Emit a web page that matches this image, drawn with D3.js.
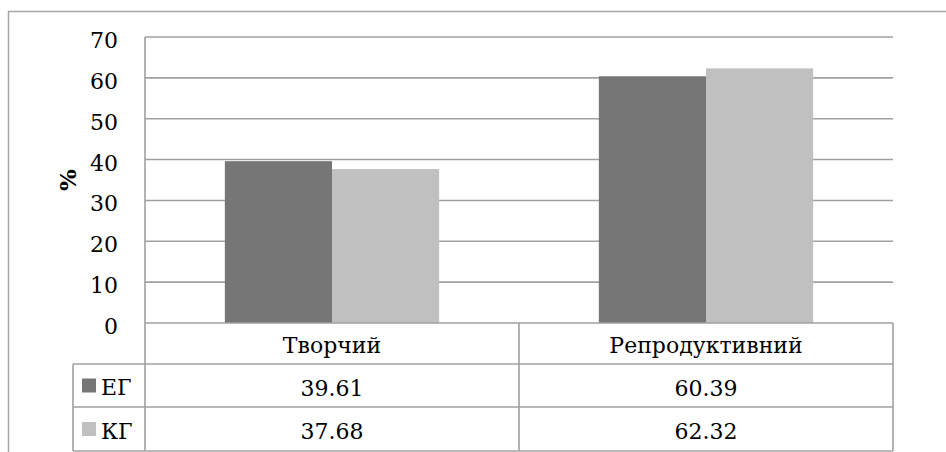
<!DOCTYPE html>
<html><head><meta charset="utf-8">
<script src="https://cdn.jsdelivr.net/npm/d3@7/dist/d3.min.js"></script>
<style>body{margin:0;background:#fff}svg{display:block}</style>
</head><body>
<svg id="c" width="946" height="452"></svg>
<script>
const categories = ["Творчий", "Репродуктивний"];
const seriesNames = ["ЕГ", "КГ"];
const valuesEG = [39.61, 60.39];
const valuesKG = [37.68, 62.32];
const yTicks = [0, 10, 20, 30, 40, 50, 60, 70];
const yLabel = "%";

const colors = {"ЕГ": "#767676", "КГ": "#c0c0c0"};
const seriesValues = {"ЕГ": valuesEG, "КГ": valuesKG};
const font = "'DejaVu Serif', serif";
const grid = "#a0a0a0";

const svg = d3.select("#c");
const L = 145, R = 893, T = 37, B = 323;
const rows = [B, 364, 407, 451];
const legendL = 73;

// outer border
svg.append("rect").attr("x", 8.5).attr("y", 11.5).attr("width", 1200).attr("height", 1200)
  .attr("fill", "none").attr("stroke", "#a6a6a6").attr("stroke-width", 1.5);

const y = d3.scaleLinear().domain([0, 70]).range([B, T]);
const x0 = d3.scaleBand().domain(categories).range([L, R]).padding(0);
const x1 = d3.scaleBand().domain(seriesNames)
  .range([x0.bandwidth() * 0.2135, x0.bandwidth() * 0.7865]).padding(0);

// gridlines
svg.append("g").selectAll("line").data(yTicks.filter(t => t > 0)).join("line")
  .attr("x1", L).attr("x2", R).attr("y1", d => y(d)).attr("y2", d => y(d))
  .attr("stroke", grid).attr("stroke-width", 1.6);

// bars
const cg = svg.append("g").selectAll("g").data(categories).join("g")
  .attr("transform", d => `translate(${x0(d)},0)`);
cg.selectAll("rect").data((c, i) => seriesNames.map(s => ({s, v: seriesValues[s][i]}))).join("rect")
  .attr("x", d => x1(d.s)).attr("width", x1.bandwidth())
  .attr("y", d => y(d.v)).attr("height", d => B - y(d.v))
  .attr("fill", d => colors[d.s]);

// y tick labels
svg.append("g").selectAll("text").data(yTicks).join("text")
  .attr("x", 118).attr("y", d => y(d)).attr("dy", "0.5em")
  .attr("text-anchor", "end").attr("font-family", font).attr("font-size", 22)
  .attr("fill", "#000").text(d => d);

// y label
svg.append("text").attr("transform", "translate(68,180) rotate(-90)")
  .attr("text-anchor", "middle").attr("dy", "0.35em")
  .attr("font-family", font).attr("font-size", 23).attr("font-weight", "bold")
  .text(yLabel);

// table lines
const lines = svg.append("g").attr("stroke", grid).attr("stroke-width", 1.6);
lines.append("line").attr("x1", L).attr("x2", L).attr("y1", T).attr("y2", rows[3]);
lines.append("line").attr("x1", L).attr("x2", R).attr("y1", B).attr("y2", B);
rows.slice(1).forEach(r => lines.append("line").attr("x1", legendL).attr("x2", R).attr("y1", r).attr("y2", r));
lines.append("line").attr("x1", legendL).attr("x2", legendL).attr("y1", rows[1]).attr("y2", rows[3]);
categories.forEach(c => {
  lines.append("line").attr("x1", x0(c) + x0.bandwidth()).attr("x2", x0(c) + x0.bandwidth())
    .attr("y1", B).attr("y2", rows[3]);
});

// category header
svg.append("g").selectAll("text").data(categories).join("text")
  .attr("x", d => x0(d) + x0.bandwidth() / 2).attr("y", 353)
  .attr("text-anchor", "middle").attr("font-family", font).attr("font-size", 22).text(d => d);

// value rows
seriesNames.forEach((s, si) => {
  const cy = (rows[si + 1] + rows[si + 2]) / 2;
  svg.append("rect").attr("x", 82).attr("y", cy - 7).attr("width", 14).attr("height", 14).attr("fill", colors[s]);
  svg.append("text").attr("x", 101).attr("y", cy).attr("dy", "0.45em")
    .attr("font-family", font).attr("font-size", 22).text(s);
  svg.append("g").selectAll("text").data(categories).join("text")
    .attr("x", d => x0(d) + x0.bandwidth() / 2).attr("y", cy).attr("dy", "0.47em")
    .attr("text-anchor", "middle").attr("font-family", font).attr("font-size", 22)
    .text((d, i) => seriesValues[s][i].toFixed(2));
});
</script>
</body></html>
